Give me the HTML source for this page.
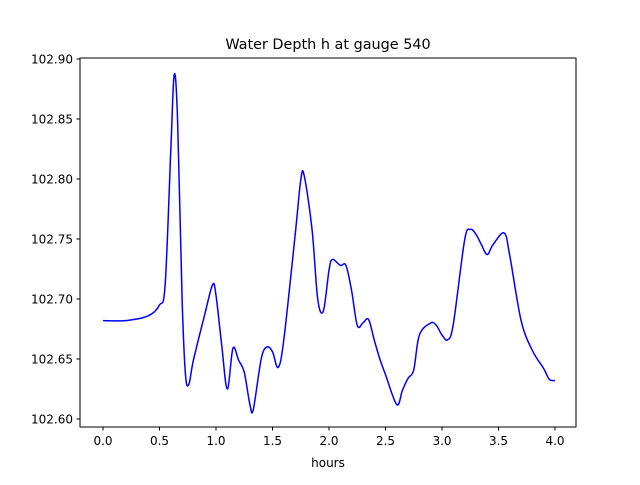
<!DOCTYPE html>
<html><head><meta charset="utf-8"><style>
body{margin:0;background:#fff;font-family:"Liberation Sans","DejaVu Sans",sans-serif;}
svg text{font-family:"DejaVu Sans","Liberation Sans",sans-serif;}
</style></head><body>
<svg id="chart" width="640" height="480" xmlns="http://www.w3.org/2000/svg">
<rect width="640" height="480" fill="#fff"/>
<text x="328" y="49" text-anchor="middle" font-size="14.4">Water Depth h at gauge 540</text>
<g id="plot"></g>
<rect x="80" y="58" width="496" height="369" fill="none" stroke="#000" stroke-width="1"/>
<text x="328" y="467" text-anchor="middle" font-size="12">hours</text>
</svg>
<script>
const hours=[0,0.2,0.4,0.5,0.55,0.6,0.63,0.66,0.7,0.73,0.76,0.8,0.9,0.97,1.0,1.05,1.1,1.15,1.2,1.25,1.3,1.33,1.4,1.45,1.5,1.55,1.6,1.7,1.75,1.78,1.85,1.9,1.95,2.0,2.03,2.1,2.15,2.2,2.25,2.3,2.35,2.4,2.45,2.5,2.6,2.65,2.7,2.75,2.8,2.9,2.95,3.0,3.05,3.1,3.2,3.25,3.3,3.35,3.4,3.45,3.55,3.6,3.7,3.8,3.9,3.95,4.0];
const depth=[102.682,102.682,102.686,102.695,102.712,102.824,102.887,102.849,102.700,102.637,102.629,102.649,102.687,102.712,102.703,102.662,102.625,102.659,102.649,102.639,102.612,102.608,102.650,102.660,102.656,102.643,102.666,102.753,102.799,102.803,102.758,102.700,102.690,102.724,102.733,102.728,102.728,102.707,102.678,102.680,102.683,102.666,102.650,102.637,102.612,102.624,102.634,102.641,102.670,102.680,102.678,102.670,102.666,102.679,102.749,102.758,102.754,102.745,102.737,102.745,102.755,102.736,102.682,102.657,102.642,102.633,102.632];
const xTicks=[0,0.5,1,1.5,2,2.5,3,3.5,4];
const xTickLabels=["0.0","0.5","1.0","1.5","2.0","2.5","3.0","3.5","4.0"];
const yTicks=[102.60,102.65,102.70,102.75,102.80,102.85,102.90];
const yTickLabels=["102.60","102.65","102.70","102.75","102.80","102.85","102.90"];
const xs=v=>103+(v-0)*113;
const ys=v=>419-(v-102.60)*1200;
const NS="http://www.w3.org/2000/svg";
const g=document.getElementById('plot');
function mk(t,a){const e=document.createElementNS(NS,t);for(const k in a)e.setAttribute(k,a[k]);g.appendChild(e);return e;}
xTicks.forEach((t,i)=>{
  const x=xs(t);
  const l=mk('line',{x1:x,x2:x,y1:427,y2:430.5,stroke:'#000'});
  
  
  const tx=mk('text',{x:x,y:445,'text-anchor':'middle','font-size':'12'});
  tx.textContent=xTickLabels[i];
  
  
});
yTicks.forEach((t,i)=>{
  const y=ys(t);
  const l=mk('line',{x1:76.5,x2:80,y1:y,y2:y,stroke:'#000'});
  
  
  const tx=mk('text',{x:73,y:y+4.5,'text-anchor':'end','font-size':'12'});
  tx.textContent=yTickLabels[i];
  
  
});
const P=hours.map((h,i)=>[xs(h),ys(depth[i])]);
let d='M'+P[0][0]+','+P[0][1];
for(let i=0;i<P.length-1;i++){
  const p0=P[Math.max(0,i-1)],p1=P[i],p2=P[i+1],p3=P[Math.min(P.length-1,i+2)];
  const c1=[p1[0]+(p2[0]-p0[0])/6,p1[1]+(p2[1]-p0[1])/6];
  const c2=[p2[0]-(p3[0]-p1[0])/6,p2[1]-(p3[1]-p1[1])/6];
  d+=' C'+c1+' '+c2+' '+p2;
}
const line=mk('path',{d:d,fill:'none',stroke:'#0000ff','stroke-width':'1.5'});


</script>
</body></html>
